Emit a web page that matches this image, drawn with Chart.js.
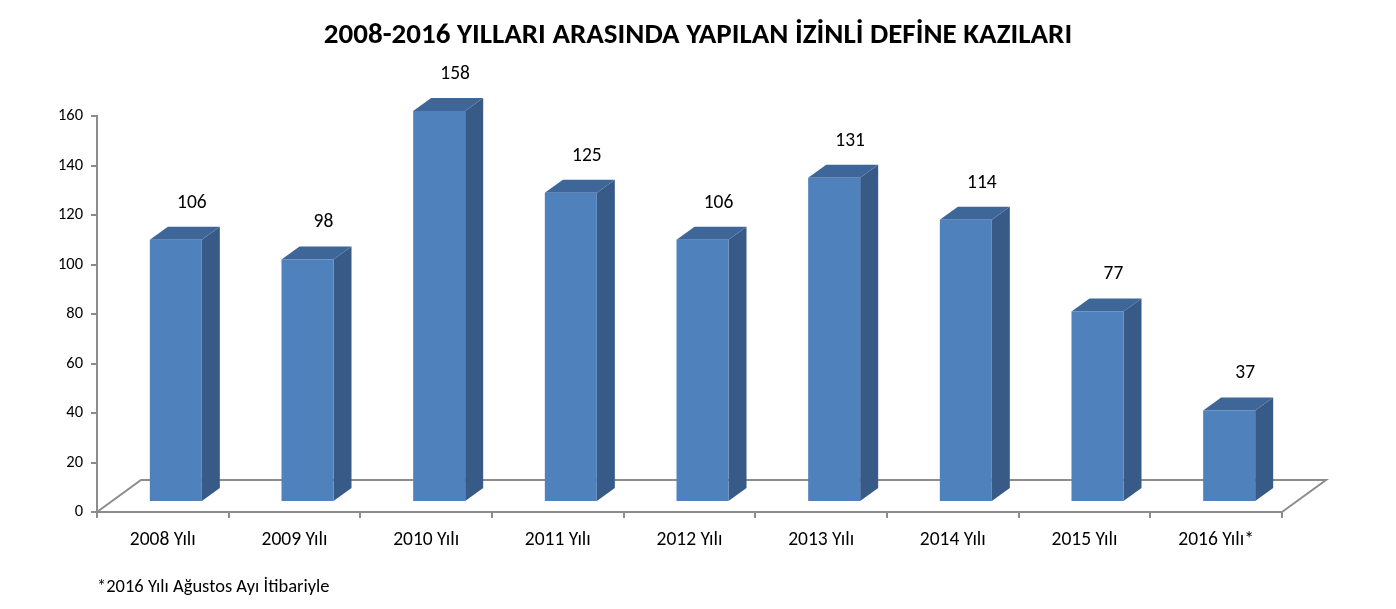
<!DOCTYPE html>
<html lang="tr">
<head>
<meta charset="utf-8">
<title>2008-2016 Yılları Arasında Yapılan İzinli Define Kazıları</title>
<script src="https://cdn.jsdelivr.net/npm/chart.js@4.4.1/dist/chart.umd.min.js"></script>
<style>
    html, body { margin: 0; padding: 0; background: #ffffff; }
    #chart { display: block; }
</style>
</head>
<body>
<canvas id="chart" width="1396" height="609"></canvas>
<script>
// Veriler
const years = ['2008 Yılı', '2009 Yılı', '2010 Yılı', '2011 Yılı', '2012 Yılı',
               '2013 Yılı', '2014 Yılı', '2015 Yılı', '2016 Yılı*'];
const excavations = [106, 98, 158, 125, 106, 131, 114, 77, 37];
const yTicks = [0, 20, 40, 60, 80, 100, 120, 140, 160];

const titleText = '2008-2016 YILLARI ARASINDA YAPILAN İZİNLİ DEFİNE KAZILARI';
const footnoteText = '*2016 Yılı Ağustos Ayı İtibariyle';

const FONT = "Carlito, 'Open Sans', 'Noto Sans', sans-serif";

// 3D görünüm ayarları
const depth = { frontX: 13, frontY: -10, sideX: 18, sideY: -13, floorX: 44, floorY: -32 };
const colors = {
    front: '#4F81BD',
    top: '#3F6699',
    side: '#375A87',
    axis: '#8C8C8C'
};

// Başlık (tuvalin ortasında)
const centerTitle = {
    id: 'centerTitle',
    afterDraw(chart) {
        const { ctx, width } = chart;
        ctx.save();
        ctx.fillStyle = '#000000';
        ctx.font = 'bold 29px ' + FONT;
        ctx.textAlign = 'center';
        ctx.textBaseline = 'middle';
        ctx.fillText(titleText, width / 2, 36);
        ctx.restore();
    }
};

// Zemin ve 3D kutular
const bar3d = {
    id: 'bar3d',
    beforeDatasetsDraw(chart) {
        const { ctx, chartArea } = chart;
        const x0 = chartArea.left, x1 = chartArea.right, yb = chartArea.bottom;
        ctx.save();
        ctx.strokeStyle = colors.axis;
        ctx.lineWidth = 2;
        ctx.beginPath();
        ctx.moveTo(x0, yb);
        ctx.lineTo(x0 + depth.floorX, yb + depth.floorY);
        ctx.lineTo(x1 + depth.floorX, yb + depth.floorY);
        ctx.lineTo(x1, yb);
        ctx.stroke();
        ctx.restore();
    },
    afterDatasetsDraw(chart) {
        const { ctx } = chart;
        const meta = chart.getDatasetMeta(0);
        ctx.save();
        meta.data.forEach((bar, i) => {
            const p = bar.getProps(['x', 'y', 'base', 'width'], true);
            const l = p.x - p.width / 2 + depth.frontX;
            const r = l + p.width;
            const t = p.y + depth.frontY;
            const b = p.base + depth.frontY;
            const dx = depth.sideX, dy = depth.sideY;

            // yan yüz
            ctx.fillStyle = colors.side;
            ctx.beginPath();
            ctx.moveTo(r, t);
            ctx.lineTo(r + dx, t + dy);
            ctx.lineTo(r + dx, b + dy);
            ctx.lineTo(r, b);
            ctx.closePath();
            ctx.fill();

            // üst yüz
            ctx.fillStyle = colors.top;
            ctx.beginPath();
            ctx.moveTo(l, t);
            ctx.lineTo(l + dx, t + dy);
            ctx.lineTo(r + dx, t + dy);
            ctx.lineTo(r, t);
            ctx.closePath();
            ctx.fill();

            // ön yüz
            ctx.fillStyle = colors.front;
            ctx.fillRect(l, t, p.width, b - t);

            // değer etiketi
            ctx.fillStyle = '#000000';
            ctx.font = '19.5px ' + FONT;
            ctx.textAlign = 'center';
            ctx.textBaseline = 'middle';
            ctx.fillText(String(excavations[i]), p.x + 29, p.y - 47);
        });
        ctx.restore();
    }
};

const ctx = document.getElementById('chart').getContext('2d');

new Chart(ctx, {
    type: 'bar',
    data: {
        labels: years,
        datasets: [{
            data: excavations,
            backgroundColor: 'rgba(0,0,0,0)',
            borderWidth: 0,
            categoryPercentage: 1,
            barPercentage: 0.395
        }]
    },
    options: {
        responsive: false,
        animation: false,
        events: [],
        layout: {
            padding: { left: 0, right: 114, top: 116, bottom: 0 }
        },
        scales: {
            x: {
                grid: {
                    drawOnChartArea: false,
                    drawTicks: true,
                    tickLength: 6,
                    color: colors.axis,
                    lineWidth: 2
                },
                border: { display: true, color: colors.axis, width: 2 },
                ticks: {
                    color: '#000000',
                    font: { family: FONT, size: 19.5 },
                    padding: 10,
                    maxRotation: 0
                },
                afterFit(scale) { scale.height = 66; }
            },
            y: {
                min: 0,
                max: 160,
                afterBuildTicks(scale) {
                    scale.ticks = yTicks.map(v => ({ value: v }));
                },
                grid: {
                    drawOnChartArea: false,
                    drawTicks: true,
                    tickLength: 6,
                    color: colors.axis,
                    lineWidth: 2
                },
                border: { display: true, color: colors.axis, width: 2 },
                ticks: {
                    color: '#000000',
                    font: { family: FONT, size: 16.5 },
                    padding: 8
                },
                afterFit(scale) { scale.width = 97; }
            }
        },
        plugins: {
            legend: { display: false },
            tooltip: { enabled: false },
            title: { display: false },
            subtitle: {
                display: true,
                text: footnoteText,
                position: 'bottom',
                align: 'start',
                fullSize: false,
                color: '#000000',
                font: { family: FONT, size: 18.5, weight: 'normal', lineHeight: 1 },
                padding: { top: 0, bottom: 12.5 }
            }
        }
    },
    plugins: [bar3d, centerTitle]
});
</script>
</body>
</html>
